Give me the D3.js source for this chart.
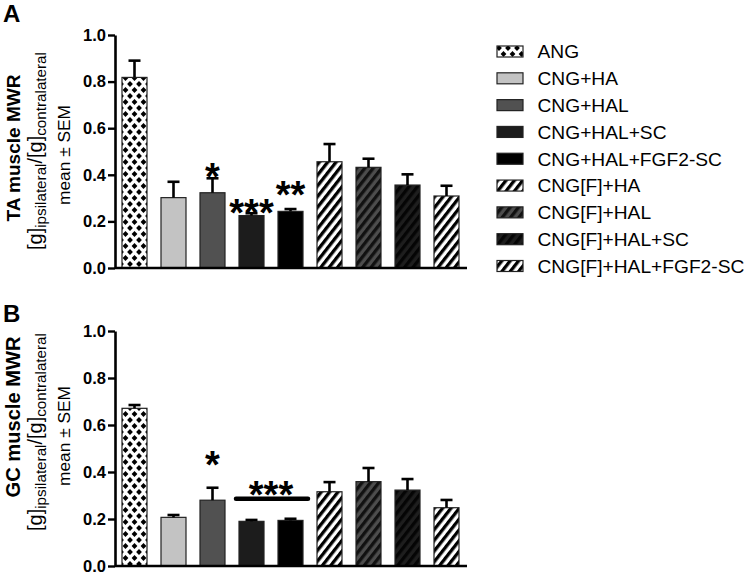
<!DOCTYPE html>
<html>
<head>
<meta charset="utf-8">
<script src="https://cdn.jsdelivr.net/npm/d3@7"></script>
<style>
  html, body { margin: 0; padding: 0; background: #fff; }
  svg { display: block; font-family: "Liberation Sans", Arial, Helvetica, sans-serif; }
</style>
</head>
<body>
<svg id="chart" width="744" height="574"></svg>
<script>
// ---------------- DATA ----------------
const categories = ["ANG", "CNG+HA", "CNG+HAL", "CNG+HAL+SC", "CNG+HAL+FGF2-SC",
  "CNG[F]+HA", "CNG[F]+HAL", "CNG[F]+HAL+SC", "CNG[F]+HAL+FGF2-SC"];
const taMean = [0.818, 0.302, 0.323, 0.225, 0.243, 0.456, 0.432, 0.356, 0.309];
const taSem  = [0.072, 0.068, 0.062, 0.010, 0.010, 0.076, 0.037, 0.046, 0.044];
const gcMean = [0.671, 0.207, 0.280, 0.190, 0.194, 0.316, 0.359, 0.323, 0.248];
const gcSem  = [0.014, 0.010, 0.053, 0.006, 0.007, 0.041, 0.058, 0.047, 0.033];
const yTicks = [0.0, 0.2, 0.4, 0.6, 0.8, 1.0];
// significance marks: [first bar, last bar, label, value level of label]
const taSig = [[2, 2, "*", 0.42], [3, 3, "***", 0.266], [4, 4, "**", 0.343]];
const gcSig = [[2, 2, "*", 0.46], [3, 4, "***", 0.332]];
const gcBracket = [[3, 4, 0.286]];

// ---------------- STYLE ----------------
const fills = ["url(#pDiamond)", "#c3c3c3", "#515151", "#1c1c1c", "#000000",
  "url(#pStripeW)", "url(#pStripeG)", "url(#pStripeD)", "url(#pStripeW)"];

const svg = d3.select("#chart");
const defs = svg.append("defs");

// diamond pattern
const pd = defs.append("pattern").attr("id", "pDiamond")
  .attr("patternUnits", "userSpaceOnUse").attr("width", 9).attr("height", 12)
  .attr("x", 121).attr("y", 0);
pd.append("rect").attr("width", 9).attr("height", 12).attr("fill", "#fff");
const dmd = (cx, cy, r) => `M${cx},${cy - r}L${cx + r},${cy}L${cx},${cy + r}L${cx - r},${cy}Z`;
[[0, 0], [9, 0], [0, 12], [9, 12], [4.5, 6]].forEach(([x, y]) =>
  pd.append("path").attr("d", dmd(x, y, 2.9)).attr("fill", "#000"));

function stripe(id, bg, fg) {
  const p = defs.append("pattern").attr("id", id)
    .attr("patternUnits", "userSpaceOnUse").attr("width", 6.6).attr("height", 20)
    .attr("patternTransform", "rotate(38)");
  p.append("rect").attr("width", 6.6).attr("height", 20).attr("fill", bg);
  p.append("rect").attr("width", 3.3).attr("height", 20).attr("fill", fg);
}
stripe("pStripeW", "#ffffff", "#000000");
stripe("pStripeG", "#4d4d4d", "#111111");
stripe("pStripeD", "#1e1e1e", "#050505");

// scale a text (and its tspans) so its rendered length equals target
function fitLength(sel, target) {
  const node = sel.node();
  const L = node.getComputedTextLength();
  if (!L) return;
  const k = target / L;
  const scaleEl = el => {
    const fs = parseFloat(el.style.fontSize);
    if (fs) el.style.fontSize = (fs * k) + "px";
    const dy = el.getAttribute("dy");
    if (dy) el.setAttribute("dy", parseFloat(dy) * k);
  };
  scaleEl(node);
  node.querySelectorAll("tspan").forEach(scaleEl);
}

const x = d3.scaleBand().domain(categories).range([115, 466])
  .paddingInner(14 / 39).paddingOuter(7 / 39);

function panel(cfg) {
  const y = d3.scaleLinear().domain([0, 1]).range([cfg.bottom, cfg.top]);
  const g = svg.append("g");

  // bars
  g.selectAll("rect.bar").data(cfg.mean).join("rect").attr("class", "bar")
    .attr("x", (d, i) => x(categories[i]))
    .attr("width", x.bandwidth())
    .attr("y", d => y(d))
    .attr("height", d => y(0) - y(d))
    .attr("fill", (d, i) => fills[i])
    .attr("stroke", "#222").attr("stroke-width", 1.2);

  // error bars (upper only)
  const eb = g.selectAll("g.eb").data(cfg.mean).join("g").attr("class", "eb");
  eb.append("line")
    .attr("x1", (d, i) => x(categories[i]) + x.bandwidth() / 2)
    .attr("x2", (d, i) => x(categories[i]) + x.bandwidth() / 2)
    .attr("y1", d => y(d))
    .attr("y2", (d, i) => y(d + cfg.sem[i]))
    .attr("stroke", "#000").attr("stroke-width", 2.6);
  eb.append("line")
    .attr("x1", (d, i) => x(categories[i]) + x.bandwidth() / 2 - 6)
    .attr("x2", (d, i) => x(categories[i]) + x.bandwidth() / 2 + 6)
    .attr("y1", (d, i) => y(d + cfg.sem[i]))
    .attr("y2", (d, i) => y(d + cfg.sem[i]))
    .attr("stroke", "#000").attr("stroke-width", 2.6);

  // y axis
  const ax = g.append("g").attr("transform", "translate(115,0)")
    .call(d3.axisLeft(y).tickValues(yTicks).tickFormat(d3.format(".1f"))
      .tickSize(7).tickSizeOuter(0).tickPadding(2));
  ax.select(".domain").attr("stroke", "#000").attr("stroke-width", 2.6);
  ax.selectAll(".tick line").attr("stroke", "#000").attr("stroke-width", 2.4);
  ax.selectAll(".tick text").attr("fill", "#000")
    .style("font-size", "16.5px").style("font-weight", "bold")
    .style("font-family", "'Liberation Sans', Arial, sans-serif");

  // x axis baseline
  g.append("line").attr("x1", x.range()[0]).attr("x2", x.range()[1] + 1)
    .attr("y1", y(0)).attr("y2", y(0))
    .attr("stroke", "#000").attr("stroke-width", 2.6);

  // significance
  const fs = 38;
  cfg.sig.forEach(([a, b, lab, lev]) => {
    const cx = (x(categories[a]) + x(categories[b]) + x.bandwidth()) / 2;
    g.append("text").attr("x", cx).attr("y", y(lev) + 0.535 * fs)
      .attr("text-anchor", "middle").style("font-size", fs + "px")
      .style("font-weight", "bold").text(lab);
  });
  cfg.bracket.forEach(([a, b, lev]) => {
    g.append("line")
      .attr("x1", x(categories[a]) - 3).attr("x2", x(categories[b]) + x.bandwidth() + 5)
      .attr("y1", y(lev)).attr("y2", y(lev))
      .attr("stroke", "#000").attr("stroke-width", 4.5).attr("stroke-linecap", "round");
  });

  // panel letter
  svg.append("text").attr("x", 3).attr("y", cfg.letterY)
    .style("font-size", "24px").style("font-weight", "bold").text(cfg.letter);

  // y titles
  const t1 = svg.append("text").attr("transform", `translate(20,${cfg.c1}) rotate(-90)`)
    .attr("text-anchor", "middle").style("font-size", "19.5px").style("font-weight", "bold")
    .text(cfg.title);
  fitLength(t1, cfg.len1);
  const t2 = svg.append("text").attr("transform", `translate(42,${cfg.c2}) rotate(-90)`)
    .attr("text-anchor", "middle").style("font-size", "19px");
  t2.append("tspan").style("font-size", "19px").text("[g]");
  t2.append("tspan").attr("dy", 4).style("font-size", "14.5px").text("ipsilateral");
  t2.append("tspan").attr("dy", -4).style("font-size", "19px").text("/[g]");
  t2.append("tspan").attr("dy", 4).style("font-size", "14.5px").text("contralateral");
  fitLength(t2, 198);
  const t3 = svg.append("text").attr("transform", `translate(70,${cfg.c3}) rotate(-90)`)
    .attr("text-anchor", "middle").style("font-size", "18.5px")
    .text("mean \u00B1 SEM");
  fitLength(t3, 100);
}

panel({ mean: taMean, sem: taSem, top: 35, bottom: 268, sig: taSig, bracket: [],
  letter: "A", letterY: 22, title: "TA muscle MWR", c1: 148, c2: 151, c3: 155, len1: 147 });
panel({ mean: gcMean, sem: gcSem, top: 331, bottom: 566, sig: gcSig, bracket: gcBracket,
  letter: "B", letterY: 322, title: "GC muscle MWR", c1: 417, c2: 432, c3: 436, len1: 161 });

// legend
const lg = svg.append("g");
const ly = d3.scaleLinear().domain([0, categories.length - 1]).range([51.5, 266]);
categories.forEach((c, i) => {
  lg.append("rect").attr("x", 497).attr("y", ly(i) - 5.5).attr("width", 26).attr("height", 11)
    .attr("fill", fills[i]).attr("stroke", "#222").attr("stroke-width", 1.2);
  lg.append("text").attr("x", 537.5).attr("y", ly(i) + 6.8)
    .style("font-size", "19.2px").text(c);
});
</script>
</body>
</html>
